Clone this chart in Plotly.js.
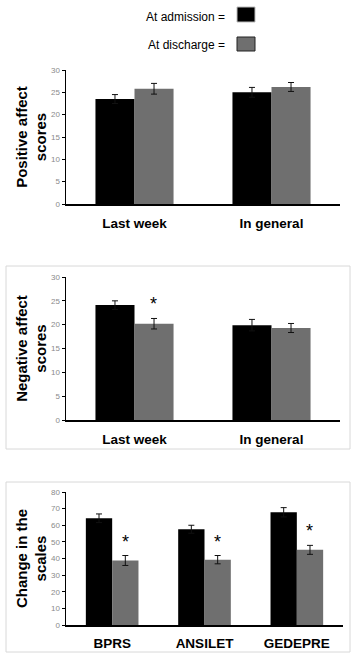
<!DOCTYPE html>
<html><head><meta charset="utf-8">
<script src="https://cdn.plot.ly/plotly-3.0.1.min.js"></script>
<style>html,body{margin:0;padding:0;background:#fff}#chart{width:356px;height:655px}</style>
</head><body><div id="chart"></div>
<script>
// ---- data ----
const affectCats = ['Last week', 'In general'];
const posAdmission = [23.5, 25.0];
const posAdmissionErr = [1.0, 1.1];
const posDischarge = [25.8, 26.2];
const posDischargeErr = [1.2, 1.0];
const negAdmission = [24.1, 19.9];
const negAdmissionErr = [0.9, 1.2];
const negDischarge = [20.2, 19.3];
const negDischargeErr = [1.1, 0.95];
const negSignificant = [true, false];
const scaleCats = ['BPRS', 'ANSILET', 'GEDEPRE'];
const scaleAdmission = [64.2, 57.6, 67.8];
const scaleAdmissionErr = [2.6, 2.4, 2.8];
const scaleDischarge = [38.8, 39.3, 45.2];
const scaleDischargeErr = [3.0, 2.5, 2.7];
const scaleSignificant = [true, true, true];
const seriesNames = ['At admission', 'At discharge'];

const BLACK = '#000000', GRAY = '#6f6f6f';
const W = 356, H = 655;
const px = v => v / W, py = v => 1 - v / H;

function bar(x, y, err, name, color, xa, ya) {
  return {type: 'bar', x, y, name, xaxis: xa, yaxis: ya, showlegend: false,
    marker: {color, line: {width: 0}},
    error_y: {type: 'data', array: err, visible: true, color: '#111', thickness: 1, width: 3}};
}
const data = [
  bar(affectCats, posAdmission, posAdmissionErr, seriesNames[0], BLACK, 'x', 'y'),
  bar(affectCats, posDischarge, posDischargeErr, seriesNames[1], GRAY, 'x', 'y'),
  bar(affectCats, negAdmission, negAdmissionErr, seriesNames[0], BLACK, 'x2', 'y2'),
  bar(affectCats, negDischarge, negDischargeErr, seriesNames[1], GRAY, 'x2', 'y2'),
  bar(scaleCats, scaleAdmission, scaleAdmissionErr, seriesNames[0], BLACK, 'x3', 'y3'),
  bar(scaleCats, scaleDischarge, scaleDischargeErr, seriesNames[1], GRAY, 'x3', 'y3')
];

const FONT = 'Liberation Sans, Arial, sans-serif';
function xax(domainEnd, n, standoff) {
  return {domain: [px(66), px(domainEnd)], range: [-0.5, n - 0.5], type: 'category',
    showline: true, linecolor: '#000', linewidth: 2, ticks: '', showgrid: false, zeroline: false,
    ticklabelstandoff: standoff,
    tickfont: {family: FONT, size: 13.5, color: '#000', weight: 'bold'}, fixedrange: true};
}
function yax(d0, d1, max, dtick, title, anchor) {
  return {domain: [py(d0), py(d1)], range: [0, max], dtick, anchor,
    showline: true, linecolor: '#000', linewidth: 1.5, ticks: 'outside', ticklen: 3, tickcolor: '#000',
    showgrid: false, zeroline: false,
    tickfont: {family: FONT, size: 8, color: '#8a8a8a'},
    title: {text: title, font: {family: FONT, size: 15, color: '#000', weight: 'bold'}, standoff: 0}};
}

const annotations = [
  {xref: 'paper', yref: 'paper', x: px(227), y: py(17), xanchor: 'right', yanchor: 'middle',
   text: seriesNames[0] + ' =', showarrow: false, font: {family: FONT, size: 12, color: '#000'}},
  {xref: 'paper', yref: 'paper', x: px(227), y: py(45), xanchor: 'right', yanchor: 'middle',
   text: seriesNames[1] + ' =', showarrow: false, font: {family: FONT, size: 12, color: '#000'}}
];
negSignificant.forEach((s, i) => { if (s) annotations.push({xref: 'x2', yref: 'y2', x: i, xshift: 19,
  y: negDischarge[i] + negDischargeErr[i], yshift: 14, text: '*', showarrow: false,
  font: {family: FONT, size: 18, color: '#000'}}); });
scaleSignificant.forEach((s, i) => { if (s) annotations.push({xref: 'x3', yref: 'y3', x: i, xshift: 13,
  y: scaleDischarge[i] + scaleDischargeErr[i], yshift: 14, text: '*', showarrow: false,
  font: {family: FONT, size: 18, color: '#000'}}); });

const shapes = [
  {type: 'rect', xref: 'paper', yref: 'paper', x0: px(237), x1: px(255), y0: py(22), y1: py(7),
   fillcolor: BLACK, line: {color: '#bbb', width: 1}},
  {type: 'rect', xref: 'paper', yref: 'paper', x0: px(237), x1: px(255), y0: py(51), y1: py(37),
   fillcolor: GRAY, line: {color: '#222', width: 1}},
  {type: 'rect', xref: 'paper', yref: 'paper', x0: px(6), x1: px(350), y0: py(449), y1: py(266),
   line: {color: '#d8d8d8', width: 1}, layer: 'below'},
  {type: 'rect', xref: 'paper', yref: 'paper', x0: px(6), x1: px(350), y0: py(652), y1: py(482),
   line: {color: '#d8d8d8', width: 1}, layer: 'below'}
];

const layout = {
  width: W, height: H, margin: {l: 0, r: 0, t: 0, b: 0},
  paper_bgcolor: '#fff', plot_bgcolor: 'rgba(0,0,0,0)',
  barmode: 'group', bargap: 0.43, bargroupgap: 0, showlegend: false,
  font: {family: FONT},
  xaxis: Object.assign(xax(340, 2, 6), {anchor: 'y'}),
  yaxis: yax(204, 70, 30, 5, 'Positive affect<br>scores', 'x'),
  xaxis2: Object.assign(xax(340, 2, 6), {anchor: 'y2'}),
  yaxis2: yax(420, 277, 30, 5, 'Negative affect<br>scores', 'x2'),
  xaxis3: Object.assign(xax(343, 3, 5), {anchor: 'y3'}),
  yaxis3: yax(625, 492, 80, 10, 'Change in the<br>scales', 'x3'),
  annotations, shapes
};
Plotly.newPlot('chart', data, layout, {staticPlot: true, displayModeBar: false});
</script></body></html>
